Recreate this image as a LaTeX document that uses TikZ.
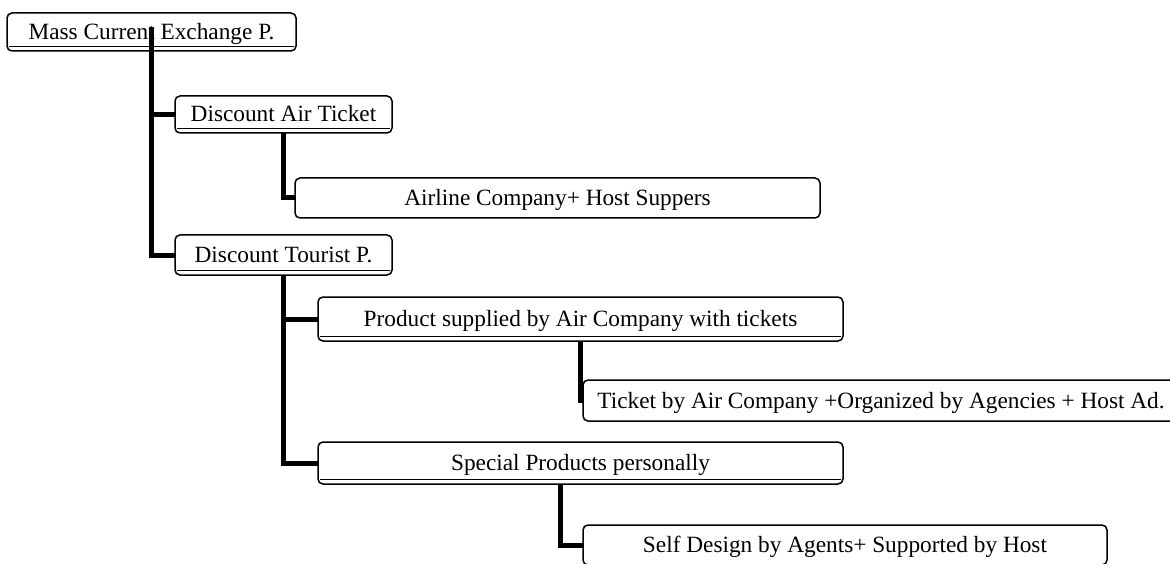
\documentclass[tikz,border=0pt]{standalone}
\usepackage{fontspec}
\setmainfont{Liberation Serif}
\begin{document}
\begin{tikzpicture}[x=1pt,y=-1pt,
  box/.style={draw, line width=1.5pt, rounded corners=5pt, inner sep=0pt, outer sep=0pt,
    font=\fontsize{23.3}{27}\selectfont, text height=15pt, text depth=0pt},
  link/.style={line width=5pt},
  dbl/.style={line width=1.2pt}]
\clip (0,0) rectangle (1170,564);
\node[box, minimum width=289, minimum height=38] (b1) at (151.5,32) {Mass Current Exchange P.};
\node[box, minimum width=217, minimum height=37] (b2) at (283.5,114.5) {Discount Air Ticket};
\node[box, minimum width=525, minimum height=40] (b3) at (557.5,198) {Airline Company+ Host Suppers};
\node[box, minimum width=217, minimum height=40] (b4) at (283.5,255) {Discount Tourist P.};
\node[box, minimum width=525, minimum height=44] (b5) at (580.5,319) {Product supplied by Air Company with tickets};
\node[box, minimum width=596, minimum height=41] (b7) at (881,400.5) {Ticket by Air Company +Organized by Agencies + Host Ad.};
\node[box, minimum width=525, minimum height=42] (b6) at (580.5,463) {Special Products personally};
\node[box, minimum width=524, minimum height=40] (b8) at (845,545) {Self Design by Agents+ Supported by Host};
\foreach \n in {b1,b2,b4,b5,b6}{
  \draw[dbl] ([xshift=2pt,yshift=4.5pt]\n.south west) -- ([xshift=-2pt,yshift=4.5pt]\n.south east);
}
\draw[link] ([yshift=5pt]b1.center) |- (b4.west);
\draw[link] (b1.center |- b2.west) -- (b2.west);
\draw[link] (b2.south) |- (b3.west);
\draw[link] (b4.south) |- (b6.west);
\draw[link] (b4.south |- b5.west) -- (b5.west);
\draw[link] (b5.south) |- (b7.west);
\draw[link] ([xshift=-20pt]b6.south) |- (b8.west);
\end{tikzpicture}
\end{document}
